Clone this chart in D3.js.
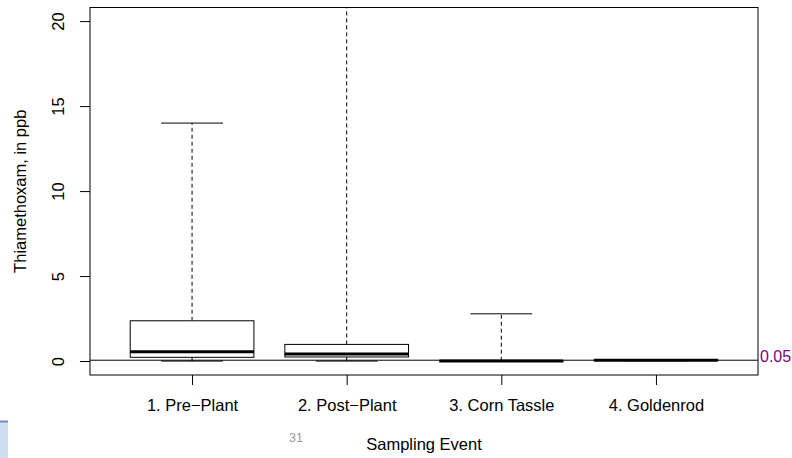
<!DOCTYPE html>
<html>
<head>
<meta charset="utf-8">
<script src="https://cdn.jsdelivr.net/npm/d3@7"></script>
<style>
  body { margin: 0; background: #fff; }
  svg { display: block; font-family: "Liberation Sans", Arial, Helvetica, sans-serif; }
</style>
</head>
<body>
<svg id="chart" width="792" height="458"></svg>
<script>
const categories = ['1. Pre\u2212Plant', '2. Post\u2212Plant', '3. Corn Tassle', '4. Goldenrod']
const whiskerLow  = [0,    0,    0,    0.02]
const q1          = [0.22, 0.24, 0,    0.03]
const median      = [0.55, 0.41, 0,    0.05]
const q3          = [2.37, 0.98, 0.02, 0.07]
const whiskerHigh = [14,   26,   2.78, 0.08]
const yTicks = [0, 5, 10, 15, 20]
const threshold = 0.05

const svg = d3.select('#chart')
const plot = {left: 90, right: 758, top: 7.5, bottom: 375}
const fs = 16.5

const x = d3.scaleLinear().domain([0.34, 4.66]).range([plot.left, plot.right])
const y = d3.scaleLinear().domain([-0.82, 20.8]).range([plot.bottom, plot.top])

const boxes = categories.map((c, i) => ({
  name: c, pos: i + 1,
  lo: whiskerLow[i], q1: q1[i], med: median[i], q3: q3[i], hi: whiskerHigh[i]
}))

svg.append('defs').append('clipPath').attr('id', 'clip')
  .append('rect')
  .attr('x', plot.left).attr('y', plot.top)
  .attr('width', plot.right - plot.left).attr('height', plot.bottom - plot.top)

const g = svg.append('g').attr('clip-path', 'url(#clip)')
const bw = 0.4

let b = g.selectAll('g.box').data(boxes).join('g').attr('class', 'box')

// whiskers
b.append('line')
  .attr('x1', d => x(d.pos)).attr('x2', d => x(d.pos))
  .attr('y1', d => y(d.q3)).attr('y2', d => y(d.hi))
  .attr('stroke', '#000').attr('stroke-dasharray', '4,3')
b.append('line')
  .attr('x1', d => x(d.pos)).attr('x2', d => x(d.pos))
  .attr('y1', d => y(d.q1)).attr('y2', d => y(d.lo))
  .attr('stroke', '#000').attr('stroke-dasharray', '4,3')
b.append('line')
  .attr('x1', d => x(d.pos - bw / 2)).attr('x2', d => x(d.pos + bw / 2))
  .attr('y1', d => y(d.hi)).attr('y2', d => y(d.hi))
  .attr('stroke', '#000')
b.append('line')
  .attr('x1', d => x(d.pos - bw / 2)).attr('x2', d => x(d.pos + bw / 2))
  .attr('y1', d => y(d.lo)).attr('y2', d => y(d.lo))
  .attr('stroke', '#000')

b.append('rect')
  .attr('x', d => x(d.pos - bw)).attr('width', d => x(d.pos + bw) - x(d.pos - bw))
  .attr('y', d => y(d.q3)).attr('height', d => y(d.q1) - y(d.q3))
  .attr('fill', '#fff').attr('stroke', '#000')

b.append('line')
  .attr('x1', d => x(d.pos - bw)).attr('x2', d => x(d.pos + bw))
  .attr('y1', d => y(d.med)).attr('y2', d => y(d.med))
  .attr('stroke', '#000').attr('stroke-width', 3)

// threshold line
svg.append('line')
  .attr('x1', plot.left).attr('x2', plot.right)
  .attr('y1', y(threshold)).attr('y2', y(threshold))
  .attr('stroke', '#000')
svg.append('text')
  .attr('x', plot.right + 2).attr('y', y(threshold) + 2)
  .attr('fill', '#800080').attr('font-size', 16)
  .text(String(threshold))

// frame
svg.append('rect')
  .attr('x', plot.left).attr('y', plot.top)
  .attr('width', plot.right - plot.left).attr('height', plot.bottom - plot.top)
  .attr('fill', 'none').attr('stroke', '#000')

// axes
const yAxis = svg.append('g')
  .attr('transform', `translate(${plot.left},0)`)
  .call(d3.axisLeft(y).tickValues(yTicks).tickSize(10).tickSizeOuter(0))
yAxis.select('.domain').remove()
yAxis.selectAll('text')
  .attr('font-size', fs).attr('fill', '#000').attr('font-family', null)
  .attr('text-anchor', 'middle')
  .attr('x', null).attr('dy', null)
  .attr('transform', 'translate(-26,0) rotate(-90)')
yAxis.selectAll('line').attr('stroke', '#000')

const xAxis = svg.append('g')
  .attr('transform', `translate(0,${plot.bottom})`)
  .call(d3.axisBottom(x).tickValues(boxes.map(d => d.pos)).tickFormat((d, i) => categories[i]).tickSize(10))
xAxis.select('.domain').remove()
xAxis.selectAll('line').attr('stroke', '#000')
xAxis.selectAll('text')
  .attr('font-size', fs).attr('fill', '#000').attr('font-family', null)
  .attr('y', 36).attr('dy', null)

svg.append('text')
  .attr('transform', `translate(26,${(plot.top + plot.bottom) / 2}) rotate(-90)`)
  .attr('text-anchor', 'middle').attr('font-size', fs)
  .text('Thiamethoxam, in ppb')

svg.append('text')
  .attr('x', (plot.left + plot.right) / 2).attr('y', 450)
  .attr('text-anchor', 'middle').attr('font-size', fs)
  .text('Sampling Event')

// slide leftovers
svg.append('text')
  .attr('x', 289).attr('y', 442)
  .attr('fill', '#999').attr('font-size', 12.5)
  .text('31')
svg.append('rect')
  .attr('x', 0).attr('y', 421).attr('width', 8).attr('height', 37)
  .attr('fill', '#d0dcf0')
svg.append('line')
  .attr('x1', 0).attr('x2', 8).attr('y1', 421.5).attr('y2', 421.5)
  .attr('stroke', '#6f8cc2').attr('stroke-width', 2)
</script>
</body>
</html>
